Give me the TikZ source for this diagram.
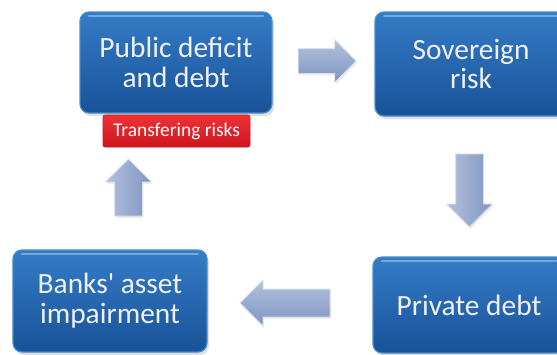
\documentclass[tikz,border=0pt]{standalone}
\usepackage{fontspec}
\setmainfont{Carlito}
\usetikzlibrary{shapes.arrows,shadows}

\definecolor{boxtop}{RGB}{52,124,198}
\definecolor{boxbot}{RGB}{24,82,152}
\definecolor{boxedge}{RGB}{70,140,205}
\definecolor{arrtop}{RGB}{178,192,222}
\definecolor{arrbot}{RGB}{128,150,192}
\definecolor{redtop}{RGB}{240,50,55}
\definecolor{redbot}{RGB}{205,20,30}

\tikzset{
  stagebox/.style={rounded corners=9bp, draw=boxedge, line width=1.2bp,
    top color=boxtop, bottom color=boxbot,
    drop shadow={shadow xshift=2bp, shadow yshift=-3bp, opacity=0.25},
    path picture={
      \draw[white, opacity=0.35, line width=2.5bp, line cap=round]
        ([xshift=9bp,yshift=-4bp]path picture bounding box.north west) --
        ([xshift=-9bp,yshift=-4bp]path picture bounding box.north east);},
    text=white!94!blue, align=center, inner sep=0pt,
    minimum width=192bp, minimum height=102bp,
    font=\fontsize{29.5}{30}\selectfont},
  tagbox/.style={rounded corners=2bp, draw=redbot, line width=0.6bp,
    top color=redtop, bottom color=redbot, text=white, inner sep=0pt,
    font=\fontsize{19.5}{21}\selectfont},
  blockarrow/.style={single arrow, draw=white!70!arrbot, line width=0.8bp,
    inner sep=13.5bp, single arrow head extend=9bp,
    top color=arrtop, bottom color=arrbot,
    drop shadow={shadow xshift=1bp, shadow yshift=-2bp, opacity=0.15}},
}

\begin{document}
\begin{tikzpicture}[x=1bp,y=-1bp]
  \useasboundingbox (0,0) rectangle (557,354);
  \clip (0,0) rectangle (557,354);

  % the four stages of the loop
  \node[stagebox, minimum height=101bp] (pub) at (176,62.5)
    {Public deficit\\and debt};
  \node[stagebox, minimum height=104bp] (sov) at (471,64)
    {Sovereign\\risk};
  \node[stagebox, minimum height=96bp] (prv) at (469,305)
    {Private debt};
  \node[stagebox, minimum width=194bp] (bnk) at (110,301)
    {Banks\textquotesingle\ asset\\impairment};

  % label under the first stage
  \node[tagbox, minimum width=147bp, minimum height=32bp] (tag) at (176.5,131)
    {Transfering risks};

  % block arrows between the stages
  \node[blockarrow, minimum height=58bp, inner sep=12bp] (a1) at (321,61) {};
  \node[blockarrow, minimum height=73bp, shape border rotate=270,
        left color=arrtop, right color=arrbot] (a2) at (469.5,183.5) {};
  \node[blockarrow, minimum height=90bp, shape border rotate=180] (a3) at (292,303) {};
  \node[blockarrow, minimum height=57bp, shape border rotate=90,
        left color=arrtop, right color=arrbot] (a4) at (128.5,194.5) {};
\end{tikzpicture}
\end{document}
